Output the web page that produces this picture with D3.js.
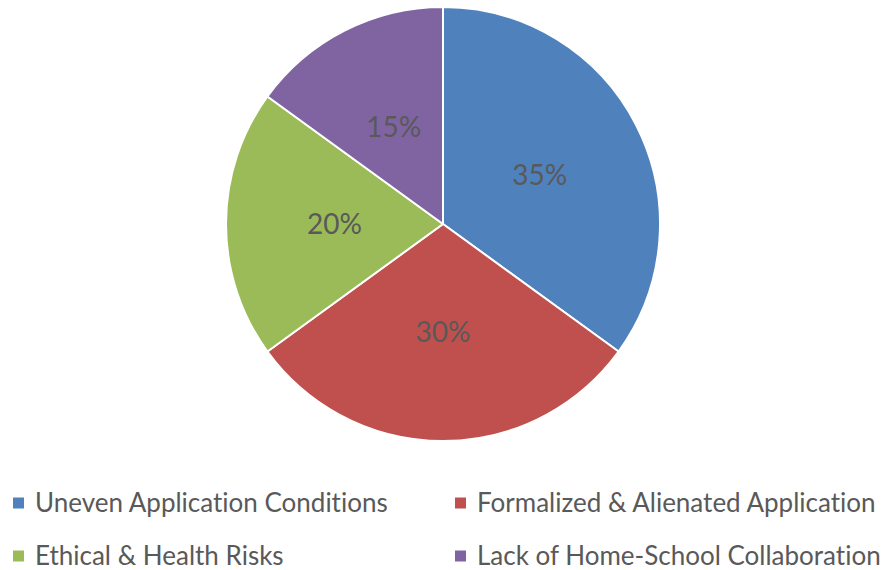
<!DOCTYPE html>
<html><head><meta charset="utf-8">
<script src="https://cdn.jsdelivr.net/npm/d3@7"></script>
<style>body{margin:0;background:#fff;}svg{display:block;}text{font-variant-ligatures:none;font-feature-settings:"liga" 0;}</style>
</head><body>
<svg id="c" width="887" height="570"></svg>
<script>
const categories = ["Uneven Application Conditions","Formalized & Alienated Application","Ethical & Health Risks","Lack of Home-School Collaboration"];
const values = [35, 30, 20, 15];
const colors = ["#4F81BD","#C0504D","#9BBB59","#8064A2"];

const svg = d3.select("#c");
const cx = 443, cy = 224, R = 217;
const font = "Lato, 'Open Sans', sans-serif";

const pie = d3.pie().sort(null).value(d => d);
const arcs = pie(values);
const arc = d3.arc().innerRadius(0).outerRadius(R);
const labelArc = d3.arc().innerRadius(0).outerRadius(R);

const g = svg.append("g").attr("transform", `translate(${cx},${cy})`);
g.selectAll("path").data(arcs).enter().append("path")
  .attr("d", arc)
  .attr("fill", (d,i) => colors[i])
  .attr("stroke", "#fff").attr("stroke-width", 2).attr("stroke-linejoin","round");

g.selectAll("text").data(arcs).enter().append("text")
  .attr("transform", d => { const c = labelArc.centroid(d); return `translate(${c[0]},${c[1]})`; })
  .attr("text-anchor","middle").attr("dy","0.35em")
  .attr("font-family", font).attr("font-size", 28).attr("fill","#595959")
  .text(d => d.data + "%");

// legend
const colX = d3.scalePoint().domain([0,1]).range([13, 455]);
const rowY = d3.scalePoint().domain([0,1]).range([503, 556]);
const leg = svg.append("g");
categories.forEach((c,i) => {
  const x = colX(i % 2), y = rowY(Math.floor(i/2));
  leg.append("rect").attr("x", x).attr("y", y - 5.5).attr("width", 11).attr("height", 11).attr("fill", colors[i]);
  leg.append("text").attr("x", x + 22).attr("y", y).attr("dy","0.35em")
    .attr("font-family", font).attr("font-size", 26).attr("fill","#595959").text(c);
});
</script>
</body></html>
